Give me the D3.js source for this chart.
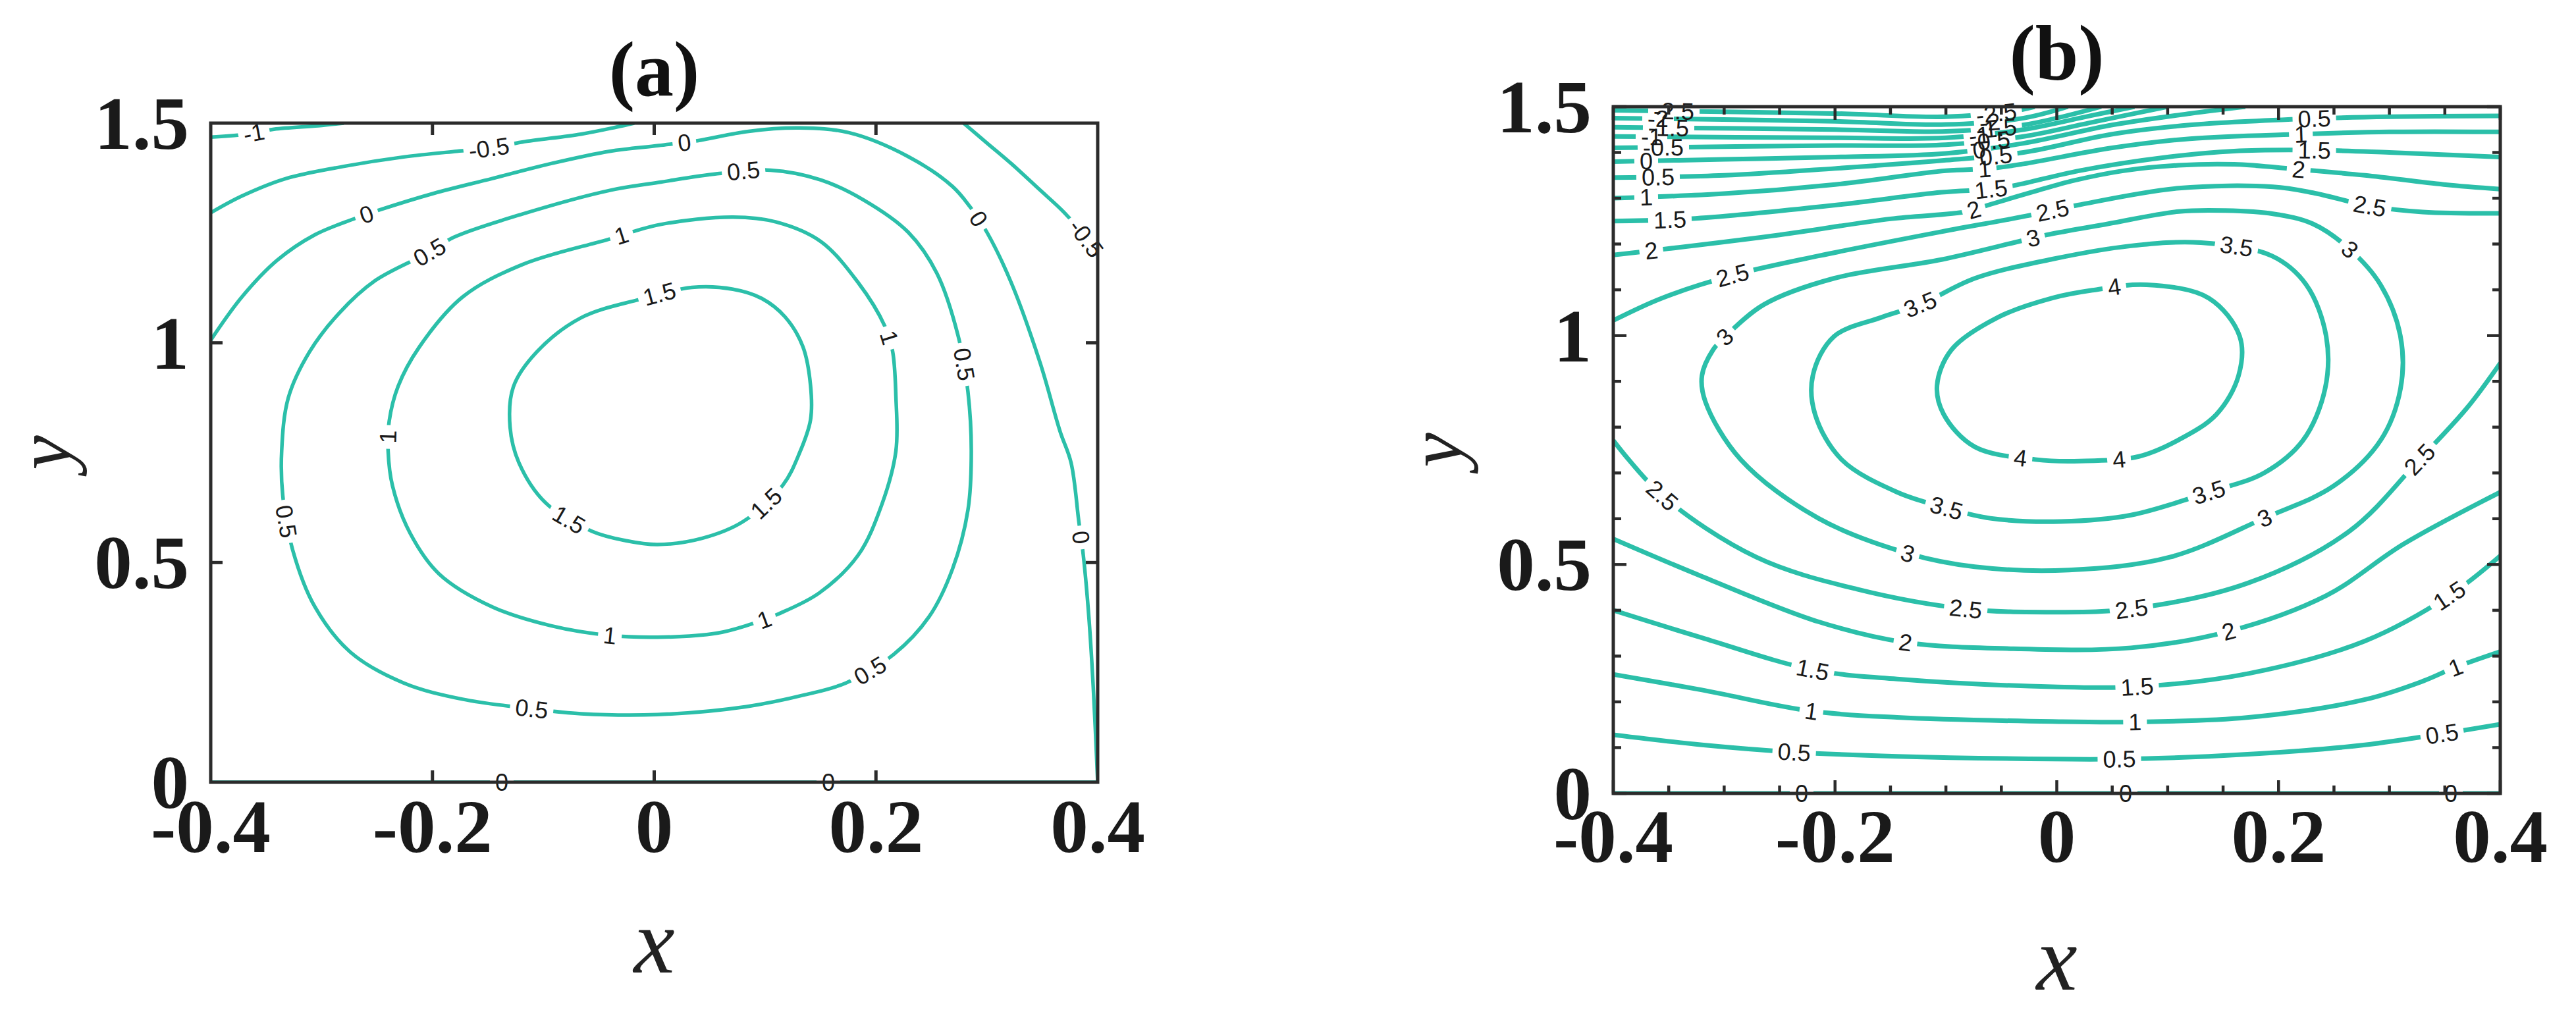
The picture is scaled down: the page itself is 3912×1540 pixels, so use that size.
<!DOCTYPE html>
<html>
<head>
<meta charset="utf-8">
<script src="https://cdn.jsdelivr.net/npm/d3@7"></script>
<style>
  body { margin: 0; background: #fff; }
</style>
</head>
<body>
<svg id="chart" width="3912" height="1540"></svg>
<script>
// ---- axes ----
const xTicks = [-0.4, -0.2, 0, 0.2, 0.4];
const yTicks = [0, 0.5, 1, 1.5];

// ---- panel (a): contour lines, [x, y] ----
const aNeg1 = [[-0.4,1.468],[-0.37,1.474],[-0.343,1.486],[-0.303,1.494],[-0.28,1.5]];
const aNeg05Left = [[-0.4,1.296],[-0.372,1.334],[-0.332,1.374],[-0.279,1.402],[-0.226,1.423],[-0.178,1.436],[-0.149,1.443],[-0.119,1.457],[-0.066,1.475],[-0.034,1.491],[-0.018,1.5]];
const aNeg05Right = [[0.279,1.5],[0.3,1.455],[0.322,1.408],[0.347,1.35],[0.37,1.296],[0.389,1.24],[0.4,1.2]];
const aZero = [[-0.4,1.006],[-0.372,1.104],[-0.34,1.188],[-0.306,1.246],[-0.271,1.282],[-0.247,1.303],[-0.199,1.34],[-0.146,1.374],[-0.093,1.408],[-0.04,1.436],[0.004,1.449],[0.039,1.46],[0.084,1.481],[0.131,1.489],[0.176,1.478],[0.229,1.424],[0.269,1.356],[0.285,1.309],[0.3,1.252],[0.322,1.137],[0.348,0.955],[0.366,0.799],[0.376,0.727],[0.383,0.593],[0.387,0.517],[0.392,0.377],[0.396,0.216],[0.4,0]];
const aZeroWall = [[-0.4,0],[0,0],[0.4,0]];
const aHalf = [[-0.335,0.652],[-0.336,0.754],[-0.33,0.875],[-0.311,0.979],[-0.284,1.068],[-0.252,1.141],[-0.203,1.206],[-0.181,1.24],[-0.119,1.293],[-0.04,1.347],[0.004,1.365],[0.057,1.385],[0.105,1.393],[0.15,1.371],[0.189,1.325],[0.229,1.252],[0.255,1.158],[0.275,1.007],[0.283,0.888],[0.286,0.754],[0.283,0.62],[0.269,0.485],[0.248,0.377],[0.216,0.291],[0.173,0.226],[0.136,0.199],[0.083,0.172],[0.003,0.154],[-0.066,0.156],[-0.11,0.167],[-0.173,0.189],[-0.226,0.226],[-0.274,0.296],[-0.306,0.399],[-0.326,0.528]];
const aOne = [[-0.24,0.754],[-0.239,0.822],[-0.231,0.901],[-0.212,0.99],[-0.173,1.104],[-0.119,1.178],[-0.042,1.235],[0.005,1.269],[0.071,1.286],[0.11,1.275],[0.15,1.231],[0.184,1.137],[0.208,1.038],[0.215,0.981],[0.218,0.877],[0.218,0.754],[0.205,0.63],[0.184,0.517],[0.149,0.431],[0.112,0.383],[0.085,0.358],[0.056,0.339],[0.003,0.33],[-0.04,0.334],[-0.093,0.356],[-0.146,0.399],[-0.194,0.474],[-0.22,0.566],[-0.236,0.674]];
const aOneHalf = [[-0.13,0.808],[-0.127,0.9],[-0.106,0.979],[-0.066,1.057],[-0.013,1.099],[0.034,1.126],[0.071,1.122],[0.097,1.101],[0.118,1.059],[0.134,0.992],[0.141,0.903],[0.141,0.825],[0.131,0.749],[0.116,0.676],[0.08,0.593],[0.043,0.555],[0.003,0.541],[-0.026,0.55],[-0.056,0.571],[-0.098,0.636],[-0.122,0.727]];
// [level, x, y] of each inline label
const aLabels = [
  [-1,-0.361,1.475],
  [-0.5,-0.149,1.441],[-0.5,0.389,1.236],
  [0,-0.259,1.29],[0,0.027,1.452],[0,0.291,1.278],[0,0.383,0.555],[0,-0.137,0],[0,0.157,0],
  [0.5,-0.203,1.206],[0.5,0.081,1.382],[0.5,0.279,0.95],[0.5,0.195,0.253],[0.5,-0.11,0.167],[0.5,-0.332,0.593],
  [1,-0.239,0.786],[1,-0.029,1.24],[1,0.208,1.01],[1,0.099,0.369],[1,-0.04,0.334],
  [1.5,0.005,1.112],[1.5,-0.077,0.595],[1.5,0.099,0.641]
];

// ---- panel (b) ----
const bZeroWall = [[-0.4,0],[0,0],[0.4,0]];
const bHalfLow = [[-0.4,0.128],[-0.32,0.106],[-0.237,0.09],[-0.144,0.081],[-0.004,0.075],[0.056,0.075],[0.137,0.081],[0.22,0.093],[0.278,0.106],[0.347,0.13],[0.4,0.151]];
const bOneLow = [[-0.4,0.26],[-0.32,0.226],[-0.222,0.18],[-0.144,0.166],[-0.004,0.157],[0.07,0.156],[0.173,0.166],[0.278,0.205],[0.33,0.245],[0.359,0.275],[0.4,0.31]];
const bOneHalfLow = [[-0.4,0.4],[-0.32,0.34],[-0.22,0.27],[-0.144,0.25],[-0.004,0.233],[0.073,0.233],[0.173,0.262],[0.278,0.333],[0.354,0.432],[0.4,0.519]];
const bTwoLow = [[-0.4,0.556],[-0.32,0.474],[-0.215,0.375],[-0.137,0.33],[-0.039,0.316],[0.067,0.318],[0.155,0.354],[0.243,0.432],[0.313,0.545],[0.4,0.658]];
const bTwoHalfLow = [[-0.4,0.771],[-0.356,0.651],[-0.271,0.516],[-0.18,0.446],[-0.082,0.403],[-0.004,0.396],[0.067,0.403],[0.173,0.46],[0.264,0.573],[0.327,0.729],[0.37,0.842],[0.4,0.94]];
const bTwoHalfUp = [[-0.4,1.033],[-0.356,1.082],[-0.292,1.132],[-0.215,1.174],[-0.104,1.227],[-0.028,1.261],[0.019,1.285],[0.11,1.322],[0.195,1.325],[0.231,1.312],[0.282,1.283],[0.33,1.27],[0.4,1.267]];
const bThree = [[-0.009,1.22],[0.046,1.244],[0.11,1.271],[0.152,1.273],[0.195,1.266],[0.231,1.244],[0.264,1.189],[0.292,1.111],[0.31,0.998],[0.31,0.884],[0.292,0.771],[0.25,0.672],[0.187,0.601],[0.102,0.516],[0.011,0.488],[-0.074,0.495],[-0.134,0.524],[-0.215,0.601],[-0.285,0.729],[-0.317,0.856],[-0.32,0.913],[-0.31,0.969],[-0.299,0.998],[-0.264,1.068],[-0.201,1.125],[-0.104,1.166],[-0.032,1.207]];
const bThreeHalf = [[-0.074,1.125],[-0.004,1.167],[0.067,1.196],[0.13,1.203],[0.194,1.174],[0.225,1.111],[0.243,0.998],[0.242,0.884],[0.222,0.771],[0.187,0.7],[0.137,0.658],[0.067,0.608],[0.004,0.594],[-0.06,0.601],[-0.099,0.623],[-0.144,0.658],[-0.194,0.729],[-0.218,0.828],[-0.22,0.913],[-0.201,0.998],[-0.158,1.04],[-0.123,1.068]];
const bFour = [[0.032,1.099],[0.081,1.111],[0.137,1.082],[0.165,0.998],[0.164,0.913],[0.144,0.828],[0.109,0.771],[0.074,0.736],[0.021,0.726],[-0.018,0.729],[-0.074,0.757],[-0.102,0.828],[-0.108,0.891],[-0.095,0.969],[-0.053,1.04],[-0.004,1.082]];
const bTwoUp = [[-0.4,1.176],[-0.35,1.19],[-0.25,1.22],[-0.15,1.255],[-0.081,1.271],[-0.062,1.285],[-0.02,1.315],[0.016,1.339],[0.06,1.36],[0.11,1.372],[0.16,1.374],[0.218,1.363],[0.278,1.35],[0.349,1.33],[0.4,1.32]];
const bOneHalfUp = [[-0.4,1.25],[-0.326,1.256],[-0.2,1.285],[-0.104,1.313],[-0.059,1.32],[-0.036,1.329],[0.02,1.36],[0.1,1.39],[0.16,1.403],[0.232,1.405],[0.3,1.4],[0.4,1.39]];
const bOneUp = [[-0.4,1.3],[-0.3,1.31],[-0.2,1.33],[-0.1,1.36],[-0.06,1.365],[-0.03,1.375],[0.05,1.41],[0.12,1.43],[0.22,1.44],[0.3,1.445],[0.4,1.445]];
const bHalfUp = [[-0.4,1.345],[-0.3,1.35],[-0.2,1.365],[-0.1,1.383],[-0.03,1.4],[0.05,1.44],[0.12,1.46],[0.22,1.473],[0.3,1.478],[0.4,1.48]];
const bZeroUp = [[-0.4,1.38],[-0.3,1.385],[-0.2,1.39],[-0.1,1.398],[-0.03,1.42],[0.05,1.46],[0.12,1.485],[0.17,1.5]];
const bNeg05 = [[-0.4,1.41],[-0.2,1.415],[-0.1,1.417],[-0.03,1.435],[0.03,1.465],[0.1,1.5]];
const bNeg1 = [[-0.4,1.435],[-0.2,1.432],[-0.1,1.432],[-0.03,1.45],[0.03,1.48],[0.07,1.5]];
const bNeg15 = [[-0.4,1.455],[-0.2,1.45],[-0.1,1.446],[-0.03,1.46],[0.04,1.5]];
const bNeg2 = [[-0.4,1.475],[-0.2,1.468],[-0.1,1.461],[-0.03,1.475],[0.01,1.5]];
const bNeg25 = [[-0.4,1.492],[-0.2,1.485],[-0.1,1.478],[-0.04,1.49],[-0.02,1.5]];
const bLabels = [
  [0,-0.23,0],[0,0.062,0],[0,0.356,0],
  [0.5,-0.237,0.088],[0.5,0.056,0.074],[0.5,0.347,0.132],
  [1,-0.222,0.177],[1,0.07,0.156],[1,0.359,0.283],
  [1.5,-0.22,0.269],[1.5,0.073,0.233],[1.5,0.354,0.432],
  [2,-0.137,0.33],[2,0.155,0.354],
  [2.5,-0.356,0.651],[2.5,-0.082,0.403],[2.5,0.067,0.403],[2.5,0.327,0.729],
  [2.5,-0.292,1.132],[2.5,-0.004,1.271],[2.5,0.282,1.283],
  [3,-0.021,1.212],[3,0.264,1.189],[3,0.187,0.601],[3,-0.134,0.524],[3,-0.299,0.998],
  [3.5,-0.123,1.068],[3.5,0.162,1.189],[3.5,0.137,0.658],[3.5,-0.099,0.623],
  [4,0.053,1.097],[4,-0.033,0.732],[4,0.056,0.732],
  [2,-0.365,1.176],[2,-0.075,1.273],[2,0.218,1.363],
  [1.5,-0.349,1.249],[1.5,-0.059,1.32],[1.5,0.232,1.397],
  [1,-0.37,1.3],[1,-0.065,1.36],[1,0.22,1.44],
  [0.5,-0.36,1.345],[0.5,-0.055,1.385],[0.5,0.232,1.472],
  [0,-0.37,1.38],[0,-0.07,1.4],
  [-0.5,-0.355,1.41],[-0.5,-0.06,1.425],
  [-1,-0.365,1.435],[-1,-0.07,1.445],
  [-1.5,-0.35,1.455],[-1.5,-0.055,1.458],
  [-2,-0.36,1.472],[-2,-0.06,1.47],
  [-2.5,-0.345,1.49],[-2.5,-0.055,1.485]
];

const teal = "#2bbfa9";
const svg = d3.select("#chart");
const defs = svg.append("defs");

// contour line tables for the two panels
const linesA = [
  {level: -1, pts: aNeg1}, {level: -0.5, pts: aNeg05Left}, {level: -0.5, pts: aNeg05Right},
  {level: 0, pts: aZero}, {level: 0, pts: aZeroWall},
  {level: 0.5, pts: aHalf, closed: true}, {level: 1, pts: aOne, closed: true},
  {level: 1.5, pts: aOneHalf, closed: true}
];
const linesB = [
  {level: 0, pts: bZeroWall}, {level: 0.5, pts: bHalfLow}, {level: 1, pts: bOneLow},
  {level: 1.5, pts: bOneHalfLow}, {level: 2, pts: bTwoLow}, {level: 2.5, pts: bTwoHalfLow},
  {level: 2.5, pts: bTwoHalfUp}, {level: 3, pts: bThree, closed: true},
  {level: 3.5, pts: bThreeHalf, closed: true}, {level: 4, pts: bFour, closed: true},
  {level: 2, pts: bTwoUp}, {level: 1.5, pts: bOneHalfUp}, {level: 1, pts: bOneUp},
  {level: 0.5, pts: bHalfUp}, {level: 0, pts: bZeroUp}, {level: -0.5, pts: bNeg05},
  {level: -1, pts: bNeg1}, {level: -1.5, pts: bNeg15}, {level: -2, pts: bNeg2},
  {level: -2.5, pts: bNeg25}
];

function drawPanel(cfg) {
  const g = svg.append("g").attr("transform", `translate(${cfg.left},${cfg.top})`);
  const x = d3.scaleLinear().domain([-0.4, 0.4]).range([0, cfg.w]);
  const y = d3.scaleLinear().domain([0, 1.5]).range([cfg.h, 0]);

  defs.append("clipPath").attr("id", cfg.id + "-clip")
    .append("rect").attr("width", cfg.w).attr("height", cfg.h);

  const lineG = g.append("g").attr("clip-path", `url(#${cfg.id}-clip)`);
  const labelG = g.append("g");

  const paths = cfg.lines.map((ln, i) => {
    const gen = d3.line()
      .x(d => x(d[0])).y(d => y(d[1]))
      .curve(ln.closed ? d3.curveCatmullRomClosed.alpha(0.5) : d3.curveCatmullRom.alpha(0.5));
    const maskId = `${cfg.id}-m${i}`;
    const mask = defs.append("mask").attr("id", maskId)
      .attr("maskUnits", "userSpaceOnUse")
      .attr("x", -100).attr("y", -100).attr("width", cfg.w + 200).attr("height", cfg.h + 200);
    mask.append("rect").attr("x", -100).attr("y", -100)
      .attr("width", cfg.w + 200).attr("height", cfg.h + 200).attr("fill", "#fff");
    const p = lineG.append("path")
      .attr("d", gen(ln.pts))
      .attr("fill", "none")
      .attr("stroke", teal)
      .attr("stroke-width", cfg.lineWidth)
      .attr("mask", `url(#${maskId})`);
    return {ln, node: p.node(), mask};
  });

  // inline labels: sit on the nearest point of the matching line, rotated with it
  cfg.labels.forEach(([lev, lx, ly]) => {
    const px = x(lx), py = y(ly);
    let best = null;
    paths.filter(p => p.ln.level === lev).forEach(p => {
      const L = p.node.getTotalLength();
      for (let s = 0; s <= L; s += 2) {
        const pt = p.node.getPointAtLength(s);
        const d = (pt.x - px) ** 2 + (pt.y - py) ** 2;
        if (!best || d < best.d) best = {d, s, p, L, pt};
      }
    });
    if (!best) return;
    const a = best.p.node.getPointAtLength(Math.max(0, best.s - 8));
    const b = best.p.node.getPointAtLength(Math.min(best.L, best.s + 8));
    let ang = Math.atan2(b.y - a.y, b.x - a.x) * 180 / Math.PI;
    if (ang > 90) ang -= 180;
    if (ang <= -90) ang += 180;
    const cx = best.pt.x, cy = best.pt.y;
    const t = labelG.append("text")
      .attr("transform", `translate(${cx},${cy}) rotate(${ang})`)
      .attr("text-anchor", "middle")
      .attr("dy", "0.35em")
      .attr("font-family", "Liberation Sans, Arial, sans-serif")
      .attr("font-size", cfg.labelSize)
      .attr("fill", "#1a1a1a")
      .text(String(lev));
    const tw = t.node().getComputedTextLength();
    best.p.mask.append("rect")
      .attr("x", -tw / 2 - 8).attr("y", -cfg.labelSize * 0.42)
      .attr("width", tw + 16).attr("height", cfg.labelSize * 0.84)
      .attr("transform", `translate(${cx},${cy}) rotate(${ang})`)
      .attr("fill", "#000");
  });

  // ticks (inward) on all four sides
  const tickG = g.append("g").attr("stroke", "#2b2b2b").attr("stroke-width", cfg.tickWidth);
  cfg.xTickVals.forEach(v => {
    const len = xTicks.some(t => Math.abs(t - v) < 1e-9) ? cfg.tickLen : cfg.minorLen;
    tickG.append("line").attr("x1", x(v)).attr("x2", x(v)).attr("y1", cfg.h).attr("y2", cfg.h - len);
    tickG.append("line").attr("x1", x(v)).attr("x2", x(v)).attr("y1", 0).attr("y2", len);
  });
  cfg.yTickVals.forEach(v => {
    const len = yTicks.some(t => Math.abs(t - v) < 1e-9) ? cfg.tickLen : cfg.minorLen;
    tickG.append("line").attr("y1", y(v)).attr("y2", y(v)).attr("x1", 0).attr("x2", len);
    tickG.append("line").attr("y1", y(v)).attr("y2", y(v)).attr("x1", cfg.w).attr("x2", cfg.w - len);
  });

  // frame
  g.append("rect").attr("width", cfg.w).attr("height", cfg.h)
    .attr("fill", "none").attr("stroke", "#2b2b2b").attr("stroke-width", 5);

  // tick labels
  const serif = "Liberation Serif, Times New Roman, serif";
  xTicks.forEach(v => {
    g.append("text").attr("x", x(v)).attr("y", cfg.h + cfg.xLabelDy)
      .attr("text-anchor", "middle").attr("font-family", serif).attr("font-weight", "bold")
      .attr("font-size", cfg.tickFont).attr("fill", "#1a1a1a").text(String(v));
  });
  yTicks.forEach(v => {
    g.append("text").attr("x", -cfg.yLabelDx).attr("y", y(v)).attr("dy", "0.34em")
      .attr("text-anchor", "end").attr("font-family", serif).attr("font-weight", "bold")
      .attr("font-size", cfg.tickFont).attr("fill", "#1a1a1a").text(String(v));
  });

  // title and axis names
  g.append("text").attr("x", cfg.w / 2).attr("y", cfg.titleY)
    .attr("text-anchor", "middle").attr("font-family", serif).attr("font-weight", "bold")
    .attr("font-size", 118).attr("fill", "#111").text(cfg.title);
  g.append("text").attr("x", cfg.w / 2).attr("y", cfg.h + cfg.xNameDy)
    .attr("text-anchor", "middle").attr("font-family", serif).attr("font-style", "italic")
    .attr("font-size", 140).attr("fill", "#222").text("x");
  g.append("text").attr("transform", `translate(${cfg.yNameX},${cfg.h / 2}) rotate(-90)`)
    .attr("text-anchor", "middle").attr("font-family", serif).attr("font-style", "italic")
    .attr("font-size", 118).attr("fill", "#222").text("y");
}

drawPanel({
  id: "pa", left: 320, top: 187, w: 1347, h: 1001, title: "(a)",
  lines: linesA, labels: aLabels, lineWidth: 5.5, labelSize: 36,
  xTickVals: [-0.2, 0, 0.2], yTickVals: [0.5, 1],
  tickLen: 18, minorLen: 18, tickWidth: 5,
  tickFont: 115, xLabelDy: 106, yLabelDx: 33,
  titleY: -42, xNameDy: 289, yNameX: -213
});

const bxTicks = d3.range(-8, 9).map(i => i * 0.05);
const byTicks = d3.range(0, 16).map(i => i * 0.1);
drawPanel({
  id: "pb", left: 2450, top: 162, w: 1347, h: 1043, title: "(b)",
  lines: linesB, labels: bLabels, lineWidth: 7, labelSize: 36,
  xTickVals: bxTicks, yTickVals: byTicks,
  tickLen: 20, minorLen: 12, tickWidth: 4.5,
  tickFont: 115, xLabelDy: 104, yLabelDx: 33,
  titleY: -42, xNameDy: 298, yNameX: -230
});
</script>
</body>
</html>
